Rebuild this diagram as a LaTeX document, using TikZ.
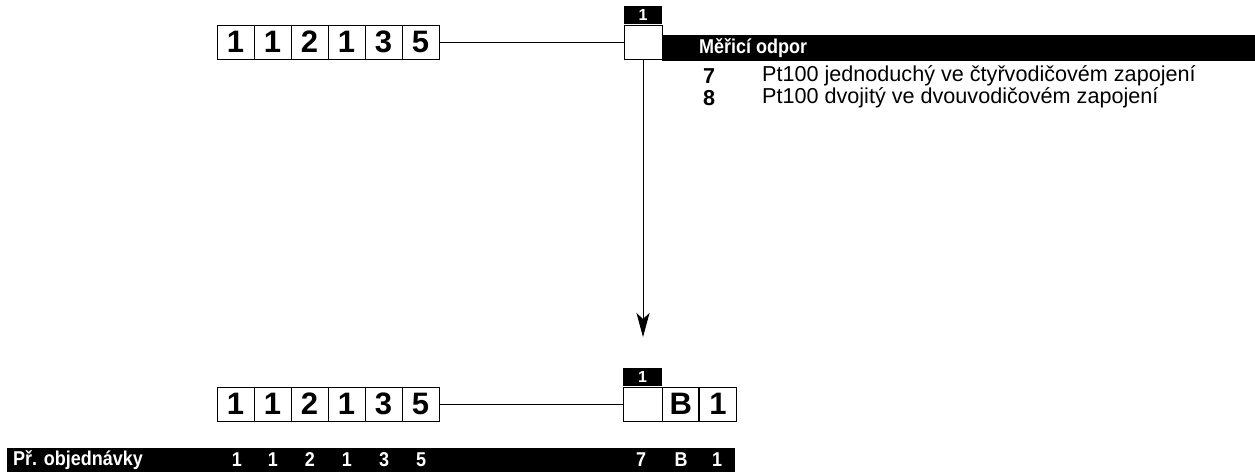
\documentclass[tikz,border=0pt]{standalone}
\usepackage{fontspec}
\setmainfont{Liberation Sans}
\newfontfamily\narrowsans{Liberation Sans}[FakeStretch=0.9]
\usetikzlibrary{arrows.meta}
\tikzset{
  cell/.style={draw, line width=0.8pt, fill=white, minimum width=37pt, minimum height=34pt, inner sep=0pt, font=\fontsize{31}{31}\selectfont\bfseries},
  tab/.style={fill=black, text=white, minimum width=38pt, minimum height=18pt, inner sep=0pt, font=\fontsize{16}{16}\selectfont\bfseries},
  conn/.style={line width=0.8pt},
  bartext/.style={text=white, inner sep=0pt, font=\narrowsans\fontsize{20}{20}\selectfont\bfseries},
  desc/.style={anchor=west, inner sep=0pt, font=\fontsize{21.6}{21.6}\selectfont},
  descnum/.style={anchor=west, inner sep=0pt, font=\fontsize{21.6}{21.6}\selectfont\bfseries}
}
\begin{document}
\begin{tikzpicture}[x=1pt,y=-1pt]
\useasboundingbox (0,0) rectangle (1255,472);
% top row
\foreach \v [count=\i] in {1,1,2,1,3,5}{
  \node[cell] (t\i) at ({217+18.5+37*(\i-1)},42) {\v};
}
\node[cell, minimum width=38pt] (tsel) at (643,42) {};
\node[tab, anchor=south] (ttab) at (tsel.north) {1};
\draw[conn] (t6.east) -- (tsel.west);
% header bar
\fill[black] (662,35) rectangle (1255,61);
\node[bartext, anchor=west] (hdr) at (699,48) {Měřicí odpor};
\node[descnum] (n7) at (703,76) {7};
\node[desc] (d7) at (762,76) {Pt100 jednoduchý ve čtyřvodičovém zapojení};
\node[descnum] (n8) at (703,98) {8};
\node[desc] (d8) at (762,98) {Pt100 dvojitý ve dvouvodičovém zapojení};
% arrow
\coordinate (tip) at (643,337);
\draw[conn, -{Stealth[length=24pt,width=13pt,inset=6pt]}] (tsel.south) -- (tip);
% bottom row
\foreach \v [count=\i] in {1,1,2,1,3,5}{
  \node[cell] (b\i) at ({217+18.5+37*(\i-1)},404) {\v};
}
\node[cell, minimum width=39pt] (bsel) at (642.5,404) {};
\node[tab, minimum width=39pt, anchor=south] (btab) at (bsel.north) {1};
\node[cell, minimum width=36pt, anchor=west] (bB) at (bsel.east) {B};
\node[cell, anchor=west] (b1x) at (bB.east) {1};
\draw[conn] (b6.east) -- (bsel.west);
% order bar
\fill[black] (7,448) rectangle (735,472);
\node[bartext, anchor=west] (ordlbl) at (13,460) {Př. objednávky};
\foreach \v/\x [count=\i] in {1/237,1/273,2/310,1/347,3/384,5/421,7/641,B/681,1/717}{
  \node[bartext] (o\i) at (\x,460) {\v};
}
\end{tikzpicture}
\end{document}
